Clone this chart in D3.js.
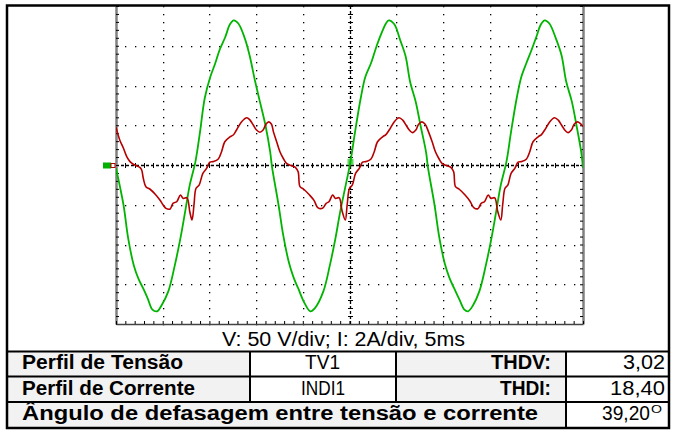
<!DOCTYPE html>
<html>
<head>
<meta charset="utf-8">
<script src="https://d3js.org/d3.v7.min.js"></script>
<style>
body{margin:0;background:#fff;}
text{font-family:Arial,"Liberation Sans",sans-serif;fill:#000;}
</style>
</head>
<body>
<script>
// oscilloscope capture: voltage (green) and current (red), 5 ms/div, 50 V/div, 2 A/div

// [time ms, volts]
var voltagePts=[[0,-4],[0.8,-50],[1.3,-92],[1.9,-126],[2.4,-143],[2.9,-155],[3.4,-168],[3.9,-182],[4.4,-184],[4.9,-176],
 [5.6,-159],[6.3,-126],[6.9,-92],[7.4,-59],[7.9,-25],[8.5,4],[9.0,42],[9.5,84],[10.1,111],[10.6,127],[11.1,145],[11.7,161],
 [12.2,177],[12.6,182],[13.1,178],[13.8,159],[14.3,138],[14.9,105],[15.4,80],[16.0,50],[16.5,17],[16.7,-2],
 [17.4,-50],[17.9,-88],[18.5,-122],[19.0,-141],[19.5,-155],[20.2,-174],[20.8,-184],[21.3,-180],[22.2,-159],[22.9,-126],
 [23.5,-92],[24.0,-59],[24.6,-25],[25.1,4],[25.6,42],[26.2,84],[26.7,111],[27.3,128],[27.8,146],[28.3,162],[28.9,178],
 [29.2,182],[29.8,177],[30.4,158],[31.0,137],[31.5,104],[32.1,79],[32.6,50],[33.2,16],[33.4,-3],
 [34.1,-50],[34.6,-90],[35.2,-124],[35.7,-142],[36.2,-155],[36.8,-170],[37.3,-182],[37.7,-184],[38.2,-177],[38.9,-159],
 [39.6,-126],[40.2,-92],[40.7,-59],[41.2,-25],[41.8,4],[42.3,42],[42.9,84],[43.4,111],[43.9,127],[44.5,145],[45.0,161],
 [45.5,177],[45.9,182],[46.4,178],[47.1,159],[47.7,138],[48.2,105],[48.8,80],[49.3,50],[49.8,17],[50,-4]];

// [time ms, amps]
var currentPts=[[0,1.9],[0.4,1.26],[0.8,0.84],[1.15,0.42],[1.5,0.17],[1.85,0.04],[2.2,-0.04],[2.55,-0.12],[2.75,-0.25],
 [2.92,-0.67],[3.2,-1.09],[3.65,-1.22],[4.2,-1.47],[4.7,-1.76],[5.05,-2.01],[5.35,-2.18],[5.8,-2.21],[6.1,-1.93],[6.5,-1.85],
 [6.9,-1.51],[7.2,-1.68],[7.6,-1.65],[7.9,-2.35],[8.14,-2.77],[8.35,-2.01],[8.57,-1.17],[8.9,-1.01],[9.3,-0.42],[9.7,-0.17],
 [10.05,0.14],[10.4,0.17],[10.95,0.3],[11.3,0.67],[11.65,1.17],[12.2,1.42],[12.55,1.51],[12.9,1.76],[13.45,2.18],[14.0,2.38],
 [14.35,2.26],[14.7,2.01],[15.05,1.76],[15.4,1.65],[15.75,1.76],[16.05,2.05],[16.35,2.17],
 [16.65,2.05],[16.85,1.68],[17.2,1.17],[17.55,0.67],[17.9,0.34],[18.25,0.08],[18.8,-0.04],[19.2,-0.12],[19.5,-0.34],
 [19.7,-1.09],[20.1,-1.22],[20.7,-1.5],[21.2,-1.78],[21.6,-2.14],[22.1,-2.18],[22.5,-1.93],[22.8,-1.85],[23.2,-1.51],
 [23.5,-1.68],[23.9,-1.65],[24.2,-2.3],[24.55,-2.77],[24.75,-2.0],[25.0,-1.17],[25.3,-1.01],[25.65,-0.42],[26.05,-0.17],
 [26.4,0.14],[26.75,0.17],[27.3,0.3],[27.65,0.67],[28.0,1.17],[28.55,1.42],[28.9,1.53],[29.25,1.76],[29.8,2.18],[30.3,2.38],
 [30.7,2.26],[31.05,2.01],[31.4,1.76],[31.75,1.63],[32.1,1.76],[32.4,2.05],[32.75,2.17],
 [33.1,2.05],[33.45,1.68],[33.85,1.17],[34.2,0.67],[34.55,0.34],[34.9,0.08],[35.45,-0.04],[35.85,-0.12],[36.15,-0.34],
 [36.35,-1.09],[36.75,-1.22],[37.35,-1.5],[37.9,-1.82],[38.3,-2.14],[38.75,-2.2],[39.1,-1.93],[39.45,-1.85],[39.85,-1.51],
 [40.15,-1.68],[40.55,-1.65],[40.85,-2.3],[41.2,-2.77],[41.4,-2.0],[41.65,-1.17],[41.95,-1.01],[42.3,-0.42],[42.7,-0.17],
 [43.05,0.14],[43.4,0.17],[43.95,0.3],[44.3,0.67],[44.65,1.17],[45.2,1.42],[45.55,1.53],[45.9,1.76],[46.45,2.18],[46.95,2.38],
 [47.35,2.26],[47.7,2.01],[48.05,1.76],[48.4,1.63],[48.75,1.76],[49.05,2.05],[49.4,2.17],[49.7,2.1],[50,1.93]];

var scaleText="V: 50 V/div; I: 2A/div, 5ms";
var rowLabels=["Perfil de Tensão","Perfil de Corrente","Ângulo de defasagem entre tensão e corrente"];
var profileNames=["TV1","INDI1"];
var thdLabels=["THDV:","THDI:"];
var thdValues=["3,02","18,40"];
var angleValue="39,20";

var width=673, height=431;
var plot={left:116, right:583, top:6, bottom:324};

var x=d3.scaleLinear().domain([0,50]).range([plot.left,plot.right]);      // 5 ms / div
var yV=d3.scaleLinear().domain([-200,200]).range([plot.bottom,plot.top]); // 50 V / div
var yI=d3.scaleLinear().domain([-8,8]).range([plot.bottom,plot.top]);     // 2 A / div

var xMajor=d3.range(5,50,5).filter(function(d){return d!==25;});
var xMinor=d3.range(0,50.001,1);
var yMajor=d3.range(-150,200,50).filter(function(d){return d!==0;});
var yMinor=d3.range(-200,200.001,10);

var svg=d3.select("body").append("svg").attr("width",width).attr("height",height);

// dotted graticule
var dots=svg.append("g");
xMajor.forEach(function(t){
  dots.selectAll(null).data(yMinor).enter().append("rect")
    .attr("x",Math.round(x(t))).attr("y",function(v){return Math.round(yV(v));})
    .attr("width",1.3).attr("height",1.3).attr("fill","#000");
});
yMajor.forEach(function(v){
  dots.selectAll(null).data(xMinor).enter().append("rect")
    .attr("x",function(t){return Math.round(x(t));}).attr("y",Math.round(yV(v)))
    .attr("width",1.3).attr("height",1.3).attr("fill","#000");
});

// centre cross, dashed with small ticks
var cx=Math.round(x(25))+0.5, cy=Math.round(yV(0))+0.5;
svg.append("line").attr("x1",plot.left).attr("x2",plot.right).attr("y1",cy).attr("y2",cy)
  .attr("stroke","#000").attr("stroke-width",1.3).attr("stroke-dasharray","3,2");
svg.append("line").attr("x1",cx).attr("x2",cx).attr("y1",plot.top).attr("y2",plot.bottom)
  .attr("stroke","#000").attr("stroke-width",1.3).attr("stroke-dasharray","3,2");
svg.append("g").selectAll("line").data(xMinor).enter().append("line")
  .attr("x1",function(t){return Math.round(x(t))+0.5;}).attr("x2",function(t){return Math.round(x(t))+0.5;})
  .attr("y1",cy-2.5).attr("y2",cy+2.5).attr("stroke","#000").attr("stroke-width",1);
svg.append("g").selectAll("line").data(yMinor).enter().append("line")
  .attr("y1",function(v){return Math.round(yV(v))+0.5;}).attr("y2",function(v){return Math.round(yV(v))+0.5;})
  .attr("x1",cx-2.5).attr("x2",cx+2.5).attr("stroke","#000").attr("stroke-width",1);

// frame axes with ticks only
var leftAxis=svg.append("g").attr("transform","translate("+plot.left+",0)")
  .call(d3.axisRight(yV).tickValues(yMinor).tickSize(3).tickSizeOuter(0).tickFormat(""));
var rightAxis=svg.append("g").attr("transform","translate("+plot.right+",0)")
  .call(d3.axisLeft(yV).tickValues(yMinor).tickSize(3).tickSizeOuter(0).tickFormat(""));
var bottomAxis=svg.append("g").attr("transform","translate(0,"+plot.bottom+")")
  .call(d3.axisTop(x).tickValues(xMinor).tickSize(3).tickSizeOuter(0).tickFormat(""));
[leftAxis,rightAxis].forEach(function(a){
  a.select(".domain").attr("stroke","#808080").attr("stroke-width",2.5);
  a.selectAll(".tick line").attr("stroke","#000");
});
bottomAxis.select(".domain").attr("stroke","#444").attr("stroke-width",1.5);
bottomAxis.selectAll(".tick line").attr("stroke","#000");

// channel markers
svg.append("rect").attr("x",103).attr("y",cy-3).attr("width",8).attr("height",6).attr("fill","#00b000");
svg.append("rect").attr("x",111).attr("y",cy-2).attr("width",4).attr("height",4).attr("fill","#fff").attr("stroke","#b00000").attr("stroke-width",1);
svg.append("rect").attr("x",cx-3).attr("y",yV(4)-3).attr("width",6).attr("height",6).attr("fill","#33cc33").attr("opacity",0.8);

// traces
svg.append("clipPath").attr("id","clip").append("rect")
  .attr("x",plot.left).attr("y",plot.top).attr("width",plot.right-plot.left).attr("height",plot.bottom-plot.top);

var vLine=d3.line().x(function(d){return x(d[0]);}).y(function(d){return yV(d[1]);}).curve(d3.curveCatmullRom.alpha(0.5));
var iLine=d3.line().x(function(d){return x(d[0]);}).y(function(d){return yI(d[1]);}).curve(d3.curveCatmullRom.alpha(0.5));

svg.append("path").datum(voltagePts).attr("d",vLine).attr("clip-path","url(#clip)")
  .attr("fill","none").attr("stroke","#00b400").attr("stroke-width",1.8);
svg.append("path").datum(currentPts).attr("d",iLine).attr("clip-path","url(#clip)")
  .attr("fill","none").attr("stroke","#b40000").attr("stroke-width",1.6);

// scale caption
svg.append("text").attr("x",222).attr("y",345.5).attr("font-size",20.5)
  .attr("textLength",243).attr("lengthAdjust","spacingAndGlyphs").text(scaleText);

// table
var rowLines=[351.5,376.5,402,428];
var cols=[7,250,396,566,669];
var grey="#f2f2f2";
for(var r=0;r<2;r++){
  svg.append("rect").attr("x",cols[0]).attr("y",rowLines[r]).attr("width",cols[1]-cols[0]).attr("height",rowLines[r+1]-rowLines[r]).attr("fill",grey);
  svg.append("rect").attr("x",cols[2]).attr("y",rowLines[r]).attr("width",cols[3]-cols[2]).attr("height",rowLines[r+1]-rowLines[r]).attr("fill",grey);
}
svg.append("rect").attr("x",cols[0]).attr("y",rowLines[2]).attr("width",cols[3]-cols[0]).attr("height",rowLines[3]-rowLines[2]).attr("fill",grey);

rowLines.forEach(function(y){
  svg.append("line").attr("x1",cols[0]).attr("x2",cols[4]).attr("y1",y).attr("y2",y).attr("stroke","#000").attr("stroke-width",2);
});
[1,2].forEach(function(c){
  svg.append("line").attr("x1",cols[c]).attr("x2",cols[c]).attr("y1",rowLines[0]).attr("y2",rowLines[2]).attr("stroke","#000").attr("stroke-width",2);
});
svg.append("line").attr("x1",cols[3]).attr("x2",cols[3]).attr("y1",rowLines[0]).attr("y2",rowLines[3]).attr("stroke","#000").attr("stroke-width",2);

var fs=19.5;
var baselines=[369,395,420];
var labelLen=[161,173,516];
rowLabels.forEach(function(s,i){
  svg.append("text").attr("x",22).attr("y",baselines[i]).attr("font-size",fs).attr("font-weight","bold")
    .attr("textLength",labelLen[i]).attr("lengthAdjust","spacingAndGlyphs").text(s);
});
var nameX=[305,301], nameLen=[35,44];
profileNames.forEach(function(s,i){
  svg.append("text").attr("x",nameX[i]).attr("y",baselines[i]).attr("font-size",fs)
    .attr("textLength",nameLen[i]).attr("lengthAdjust","spacingAndGlyphs").text(s);
});
var thdX=[491,500], thdLen=[60,51];
thdLabels.forEach(function(s,i){
  svg.append("text").attr("x",thdX[i]).attr("y",baselines[i]).attr("font-size",fs).attr("font-weight","bold")
    .attr("textLength",thdLen[i]).attr("lengthAdjust","spacingAndGlyphs").text(s);
});
var valX=[623,610], valLen=[42,55];
thdValues.forEach(function(s,i){
  svg.append("text").attr("x",valX[i]).attr("y",baselines[i]).attr("font-size",fs)
    .attr("textLength",valLen[i]).attr("lengthAdjust","spacingAndGlyphs").text(s);
});
svg.append("text").attr("x",602).attr("y",baselines[2]).attr("font-size",fs)
  .attr("textLength",48).attr("lengthAdjust","spacingAndGlyphs").text(angleValue);
svg.append("text").attr("x",651).attr("y",413).attr("font-size",11.5)
  .attr("textLength",11).attr("lengthAdjust","spacingAndGlyphs").text("O");

// outer frame
svg.append("rect").attr("x",7).attr("y",5.5).attr("width",662).attr("height",422.5)
  .attr("fill","none").attr("stroke","#000").attr("stroke-width",2.5);
</script>
</body>
</html>
